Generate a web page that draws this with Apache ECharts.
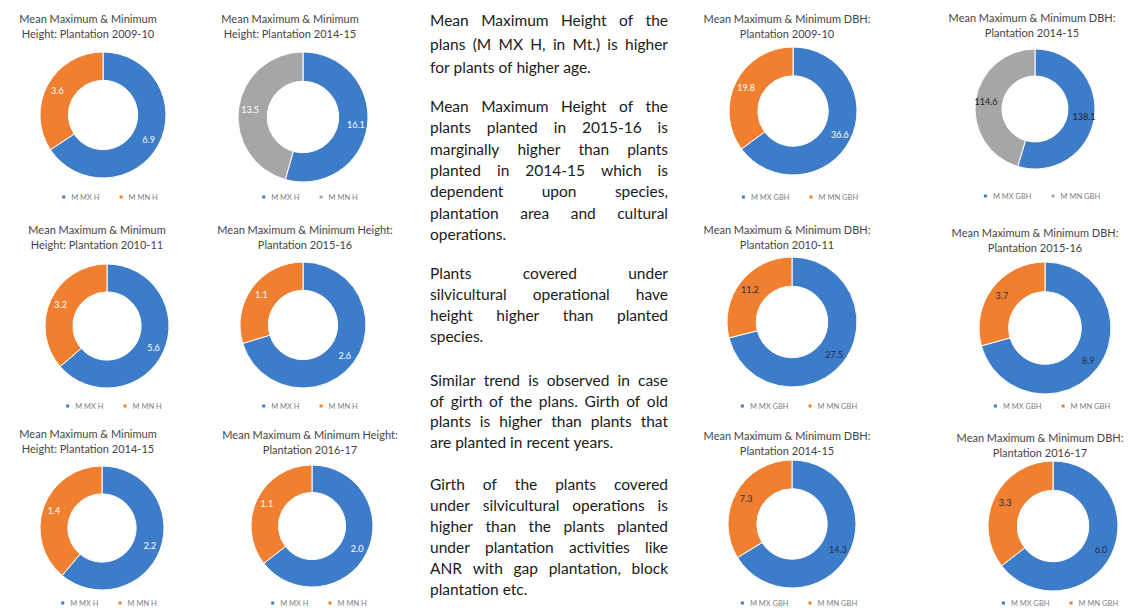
<!DOCTYPE html>
<html><head><meta charset="utf-8">
<script src="https://cdn.jsdelivr.net/npm/echarts@6/dist/echarts.min.js"></script>
<style>html,body{margin:0;padding:0;background:#fff}#c{width:1136px;height:608px}</style>
</head><body><div id="c"></div>
<script>
// ---- data ----
const chartTitles = [
  'Mean Maximum & Minimum\nHeight: Plantation 2009-10',
  'Mean Maximum & Minimum\nHeight: Plantation 2014-15',
  'Mean Maximum & Minimum\nHeight: Plantation 2010-11',
  'Mean Maximum & Minimum Height:\nPlantation 2015-16',
  'Mean Maximum & Minimum\nHeight: Plantation 2014-15',
  'Mean Maximum & Minimum Height:\nPlantation 2016-17',
  'Mean Maximum & Minimum DBH:\nPlantation 2009-10',
  'Mean Maximum & Minimum DBH:\nPlantation 2014-15',
  'Mean Maximum & Minimum DBH:\nPlantation 2010-11',
  'Mean Maximum & Minimum DBH:\nPlantation 2015-16',
  'Mean Maximum & Minimum DBH:\nPlantation 2014-15',
  'Mean Maximum & Minimum DBH:\nPlantation 2016-17'
];
const maxValues = [6.9, 16.1, 5.6, 2.6, 2.2, 2.0, 36.6, 138.1, 27.5, 8.9, 14.3, 6.0];
const minValues = [3.6, 13.5, 3.2, 1.1, 1.4, 1.1, 19.8, 114.6, 11.2, 3.7, 7.3, 3.3];
const heightNames = ['M MX H', 'M MN H'];
const dbhNames = ['M MX GBH', 'M MN GBH'];
const paragraphs = [
  ['Mean Maximum Height of the', 'plans (M MX H, in Mt.) is higher', 'for plants of higher age.'],
  ['Mean Maximum Height of the', 'plants planted in 2015-16 is', 'marginally higher than plants', 'planted in 2014-15 which is', 'dependent upon species,', 'plantation area and cultural', 'operations.'],
  ['Plants covered under', 'silvicultural operational have', 'height higher than planted', 'species.'],
  ['Similar trend is observed in case', 'of girth of the plans. Girth of old', 'plants is higher than plants that', 'are planted in recent years.'],
  ['Girth of the plants covered', 'under silvicultural operations is', 'higher than the plants planted', 'under plantation activities like', 'ANR with gap plantation, block', 'plantation etc.']
];

// ---- layout & style ----
const layout = [
  {cx:103, cy:115, r:63, tx:88,  ty:25.5, ly:193},
  {cx:303, cy:117, r:65, tx:290, ty:25.5, ly:193},
  {cx:107, cy:326, r:62, tx:97,  ty:236.5, ly:402},
  {cx:303, cy:325, r:63, tx:305, ty:237, ly:402},
  {cx:102, cy:528, r:62, tx:88,  ty:441, ly:599},
  {cx:312, cy:526, r:61, tx:310, ty:441.5, ly:599},
  {cx:793, cy:111, r:64, tx:787, ty:25.5, ly:193},
  {cx:1035, cy:109, r:60, tx:1032, ty:25, ly:192},
  {cx:792, cy:322, r:65, tx:787, ty:237, ly:402},
  {cx:1045, cy:328, r:66, tx:1035, ty:240, ly:402},
  {cx:792, cy:524, r:64, tx:787, ty:442.5, ly:599},
  {cx:1053, cy:526, r:65, tx:1040, ty:444.5, ly:599}
];
const BLUE = '#3d7cc9', ORANGE = '#f07f2f', GRAY = '#a6a6a6';
const minColors = [ORANGE, GRAY, ORANGE, ORANGE, ORANGE, ORANGE, ORANGE, GRAY, ORANGE, ORANGE, ORANGE, ORANGE];
const labelColors = ['#fff','#fff','#fff','#fff','#fff','#fff','#fff','#222','#1f2f4a','#1f2f4a','#1f2f4a','#1f2f4a'];
const FONT = 'Lato';
const paraStartY = [20, 106, 273, 380, 484];
const paraLineH = [23.5, 21.3, 21, 20.7, 21];
const TEXT_LEFT = 430, TEXT_W = 238;

const cv = document.createElement('canvas').getContext('2d');
function measure(t, font) { cv.font = font; return cv.measureText(t).width; }

const series = [], legends = [], graphics = [];
layout.forEach((L, i) => {
  const names = i < 6 ? heightNames : dbhNames;
  series.push({
    type: 'pie', center: [L.cx, L.cy], radius: [L.r * 0.55, L.r],
    startAngle: 90, clockwise: true, avoidLabelOverlap: false,
    silent: true,
    label: { show: true, position: 'inside', fontSize: 9, fontFamily: FONT, color: labelColors[i],
      formatter: p => p.value.toFixed(1) },
    labelLine: { show: false },
    itemStyle: { borderColor: '#fff', borderWidth: 1 },
    data: [
      { name: names[0], value: maxValues[i], itemStyle: { color: BLUE } },
      { name: names[1], value: minValues[i], itemStyle: { color: minColors[i] } }
    ]
  });
  const lf = '7.5px ' + FONT;
  const w = names.reduce((s, n) => s + 5 + 5 + measure(n, lf), 0) + 18;
  legends.push({
    left: L.cx - w / 2, top: L.ly - 5, orient: 'horizontal', selectedMode: false,
    icon: 'rect', itemWidth: 5, itemHeight: 5, itemGap: 18, itemTextGap: 5,
    textStyle: { fontSize: 7.5, color: '#808080', fontFamily: FONT },
    data: [
      { name: names[0], itemStyle: { color: BLUE } },
      { name: names[1], itemStyle: { color: minColors[i] } }
    ]
  });
  graphics.push({
    type: 'text', x: L.tx, y: L.ty, silent: true,
    style: { text: chartTitles[i], font: '11px ' + FONT, fill: '#454545',
      align: 'center', verticalAlign: 'middle', textAlign: 'center', textVerticalAlign: 'middle', lineHeight: 15 }
  });
});

// justified middle text, font size fitted so the longest justified line fills the column
let maxNat = 0;
paragraphs.forEach(lines => lines.forEach((line, li) => {
  if (li < lines.length - 1) maxNat = Math.max(maxNat, measure(line, '14px ' + FONT));
}));
const bodySize = Math.min(15.5, 14 * (TEXT_W - 3) / maxNat);
const bodyFont = bodySize.toFixed(2) + 'px ' + FONT;
paragraphs.forEach((lines, pi) => {
  lines.forEach((line, li) => {
    const y = paraStartY[pi] + li * paraLineH[pi];
    const last = li === lines.length - 1;
    const words = line.split(' ');
    const widths = words.map(w => measure(w, bodyFont));
    const total = widths.reduce((a, b) => a + b, 0);
    const space = measure(' ', bodyFont);
    const gap = (!last && words.length > 1) ? (TEXT_W - total) / (words.length - 1) : space;
    let x = TEXT_LEFT;
    words.forEach((w, wi) => {
      graphics.push({
        type: 'text', x: x, y: y, silent: true,
        style: { text: w, font: bodyFont, fill: '#1a1a1a', align: 'left', verticalAlign: 'middle',
          textAlign: 'left', textVerticalAlign: 'middle' }
      });
      x += widths[wi] + gap;
    });
  });
});

const chart = echarts.init(document.getElementById('c'), null, { renderer: 'svg' });
chart.setOption({
  backgroundColor: '#fff',
  animation: false,
  legend: legends,
  series: series,
  graphic: { elements: graphics }
});
</script></body></html>
